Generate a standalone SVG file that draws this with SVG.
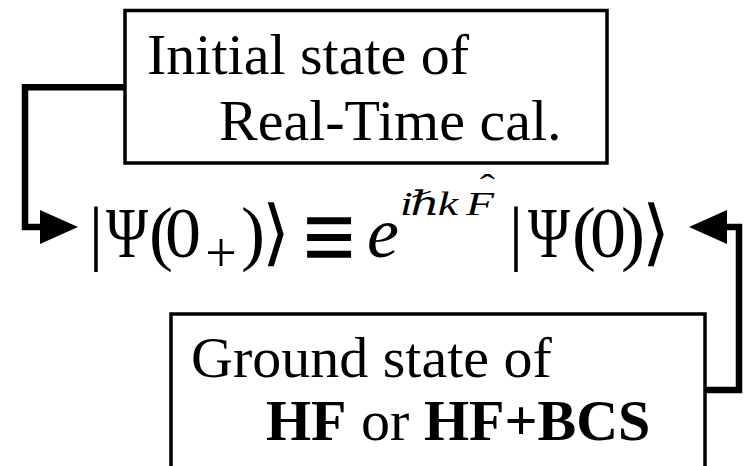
<svg xmlns="http://www.w3.org/2000/svg" width="744" height="466" viewBox="0 0 744 466">
  <style>
    .box { fill: #ffffff; stroke: #000000; stroke-width: 3.5; }
    .lbl { font-family: "Liberation Serif", "Times New Roman", serif; font-size: 58px; fill: #000000; }
    .b { font-weight: bold; }
    .conn { fill: none; stroke: #000000; stroke-width: 6.5; stroke-linejoin: miter; stroke-linecap: butt; }
    .m { font-family: "Liberation Serif", "DejaVu Serif", serif; font-size: 72px; fill: #000000; text-anchor: middle; }
    .eq { font-family: "DejaVu Serif", serif; font-size: 52px; fill: #000000; text-anchor: middle; }
    .sup { font-family: "Liberation Serif", "DejaVu Serif", serif; font-style: italic; font-size: 34px; fill: #000000; text-anchor: middle; }
    .ang { font-family: "DejaVu Sans", "DejaVu Serif", sans-serif; }
  </style>
  <defs>
    <marker id="arrow" markerUnits="userSpaceOnUse" markerWidth="40" markerHeight="36" viewBox="0 -18 40 36" refX="0" refY="0" orient="auto">
      <path d="M0,-17 L38,0 L0,17 Z" fill="#000000"/>
    </marker>
  </defs>

  <g id="connectors">
    <path class="conn" d="M125,87.3 H25 V227 H40" marker-end="url(#arrow)"/>
    <path class="conn" d="M705,390 H739 V227 H727" marker-end="url(#arrow)"/>
  </g>

  <g id="node-initial">
    <rect class="box" x="125" y="10.5" width="482" height="152.5"/>
    <text class="lbl" x="147" y="74">Initial state of</text>
    <text class="lbl" x="219" y="140">Real-Time cal.</text>
  </g>

  <g id="node-equation">
    <text class="m" y="257"><tspan x="96">|</tspan><tspan x="127" textLength="42" lengthAdjust="spacingAndGlyphs">Ψ</tspan><tspan x="161">(</tspan><tspan x="183">0</tspan><tspan x="221" y="272" style="font-size:56px">+</tspan><tspan x="253" y="257">)</tspan><tspan class="ang" x="276">⟩</tspan><tspan x="383" style="font-style:italic">e</tspan><tspan x="516">|</tspan><tspan x="549" textLength="42" lengthAdjust="spacingAndGlyphs">Ψ</tspan><tspan x="584">(</tspan><tspan x="608">0</tspan><tspan x="633">)</tspan><tspan class="ang" x="656">⟩</tspan></text>
    <text class="eq" transform="translate(329,238) scale(1.35,1.75)" x="0" y="15.8">≡</text>
    <text class="sup" transform="translate(451,215) scale(1.35,1)" y="0"><tspan x="-33">i</tspan><tspan x="-19.3">ℏ</tspan><tspan x="-2.2">k</tspan><tspan x="21.5">F</tspan><tspan x="27" y="-17" style="font-style:normal">ˆ</tspan></text>
  </g>

  <g id="node-ground">
    <rect class="box" x="171" y="314" width="534" height="170"/>
    <text class="lbl" x="191" y="377">Ground state of</text>
    <text class="lbl" x="266" y="440"><tspan class="b">HF</tspan> or <tspan class="b">HF+BCS</tspan></text>
  </g>
</svg>
